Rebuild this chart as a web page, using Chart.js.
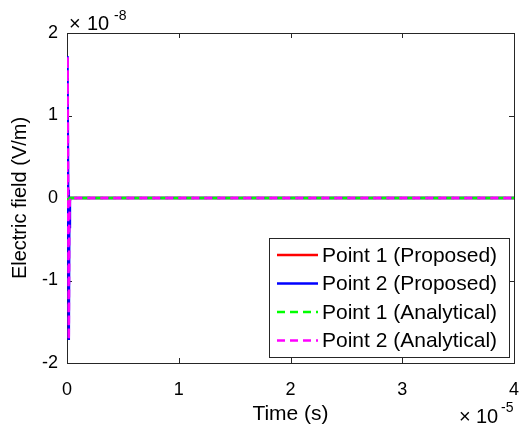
<!DOCTYPE html>
<html>
<head>
<meta charset="utf-8">
<script src="https://cdn.jsdelivr.net/npm/chart.js@4"></script>
<style>
  html, body { margin: 0; padding: 0; background: #fff; }
  #wrap { width: 521px; height: 434px; position: relative; }
</style>
</head>
<body>
<div id="wrap"><canvas id="fieldChart" width="521" height="434"></canvas></div>
<script>
// ===== DATA (time in 1e-5 s, field in 1e-8 V/m) =====
const timeE5 = [0, 0.002, 0.006, 0.010, 0.016, 0.020, 0.026, 0.5, 1, 2, 3, 4];
const p1Proposed = [0, 0.02, 0.08, 0, -0.08, -0.02, 0, 0, 0, 0, 0, 0];
const p2Proposed = [0, 0.5, 1.72, 0.1, -1.72, -0.35, 0, 0, 0, 0, 0, 0];
const p1Analytical = [0, 0.02, 0.08, 0, -0.08, -0.02, 0, 0, 0, 0, 0, 0];
const p2Analytical = [0, 0.5, 1.72, 0.1, -1.72, -0.35, 0, 0, 0, 0, 0, 0];
const seriesLabels = ["Point 1 (Proposed)", "Point 2 (Proposed)", "Point 1 (Analytical)", "Point 2 (Analytical)"];
const xTicks = [0, 1, 2, 3, 4];
const yTicks = [-2, -1, 0, 1, 2];

const FONT = "'Liberation Sans', Arial, Helvetica, sans-serif";
const AXIS_COLOR = "#262626";

function toPoints(values) {
  return timeE5.map((t, i) => ({ x: t, y: values[i] }));
}

// box + inward ticks, MATLAB style
const boxPlugin = {
  id: "box",
  beforeDatasetsDraw(chart) {
    const { ctx, chartArea: a, scales } = chart;
    ctx.save();
    ctx.strokeStyle = AXIS_COLOR;
    ctx.lineWidth = 1;
    ctx.strokeRect(Math.round(a.left) + 0.5, Math.round(a.top) + 0.5,
      Math.round(a.right - a.left), Math.round(a.bottom - a.top));
    const len = 5;
    ctx.beginPath();
    xTicks.forEach((v) => {
      const px = Math.round(scales.x.getPixelForValue(v)) + 0.5;
      ctx.moveTo(px, a.bottom); ctx.lineTo(px, a.bottom - len);
      ctx.moveTo(px, a.top); ctx.lineTo(px, a.top + len);
    });
    yTicks.forEach((v) => {
      const py = Math.round(scales.y.getPixelForValue(v)) + 0.5;
      ctx.moveTo(a.left, py); ctx.lineTo(a.left + len, py);
      ctx.moveTo(a.right, py); ctx.lineTo(a.right - len, py);
    });
    ctx.stroke();
    ctx.restore();
  },
  afterDraw(chart) {
    const { ctx } = chart;
    ctx.save();
    ctx.fillStyle = "#000";
    // exponent labels
    ctx.textBaseline = "alphabetic";
    ctx.textAlign = "left";
    ctx.font = "20px " + FONT;
    ctx.fillText("\u00d7", 69, 30);
    ctx.fillText("10", 87, 30);
    ctx.font = "14px " + FONT;
    ctx.fillText("-8", 114, 20);
    ctx.font = "20px " + FONT;
    ctx.fillText("\u00d7", 459, 423);
    ctx.fillText("10", 476, 423);
    ctx.font = "14px " + FONT;
    ctx.fillText("-5", 501, 412);

    // legend
    const lx = 269, ly = 238, lw = 240, lh = 119;
    ctx.fillStyle = "#fff";
    ctx.fillRect(lx, ly, lw, lh);
    ctx.strokeStyle = AXIS_COLOR;
    ctx.lineWidth = 1;
    ctx.strokeRect(lx + 0.5, ly + 0.5, lw, lh);
    ctx.font = "21px " + FONT;
    ctx.textBaseline = "middle";
    chart.data.datasets.forEach((ds, i) => {
      const y = ly + 17 + i * 28.5;
      ctx.beginPath();
      ctx.strokeStyle = ds.borderColor;
      ctx.lineWidth = ds.borderWidth;
      ctx.setLineDash(ds.borderDash || []);
      ctx.moveTo(lx + 8, y);
      ctx.lineTo(lx + 49, y);
      ctx.stroke();
      ctx.setLineDash([]);
      ctx.fillStyle = "#000";
      ctx.fillText(ds.label, lx + 53, y + 1);
    });
    ctx.restore();
  },
};

const dash = [8, 5];

new Chart(document.getElementById("fieldChart"), {
  type: "line",
  data: {
    datasets: [
      { label: seriesLabels[0], data: toPoints(p1Proposed), borderColor: "#ff0000", borderWidth: 2.5, order: 3 },
      { label: seriesLabels[1], data: toPoints(p2Proposed), borderColor: "#0000ff", borderWidth: 2.5, order: 2 },
      { label: seriesLabels[2], data: toPoints(p1Analytical), borderColor: "#00ff00", borderWidth: 2.5, borderDash: dash, order: 1 },
      { label: seriesLabels[3], data: toPoints(p2Analytical), borderColor: "#ff00ff", borderWidth: 2.5, borderDash: dash, order: 0 },
    ],
  },
  options: {
    responsive: false,
    animation: false,
    layout: { padding: { left: 0, right: 7, top: 33, bottom: 0 } },
    elements: { point: { radius: 0 }, line: { tension: 0 } },
    plugins: { legend: { display: false }, tooltip: { enabled: false } },
    scales: {
      x: {
        type: "linear",
        min: 0,
        max: 4,
        afterFit: (s) => { s.height = 71; s.paddingLeft = 0; s.paddingRight = 0; },
        afterBuildTicks: (s) => { s.ticks = xTicks.map((v) => ({ value: v })); },
        grid: { display: false, drawTicks: false },
        border: { display: false },
        ticks: { color: "#000", font: { family: FONT, size: 18 }, padding: 16, maxRotation: 0 },
        title: { display: true, text: "Time (s)", color: "#000", font: { family: FONT, size: 21 }, padding: { top: 0, bottom: 7 } },
      },
      y: {
        type: "linear",
        min: -2,
        max: 2,
        afterFit: (s) => { s.width = 67; s.paddingTop = 0; s.paddingBottom = 0; },
        afterBuildTicks: (s) => { s.ticks = yTicks.map((v) => ({ value: v })); },
        grid: { display: false, drawTicks: false },
        border: { display: false },
        ticks: { color: "#000", font: { family: FONT, size: 18 }, padding: 9 },
        title: { display: true, text: "Electric field (V/m)", color: "#000", font: { family: FONT, size: 20 }, padding: { top: 8, bottom: 0 } },
      },
    },
  },
  plugins: [boxPlugin],
});
</script>
</body>
</html>
